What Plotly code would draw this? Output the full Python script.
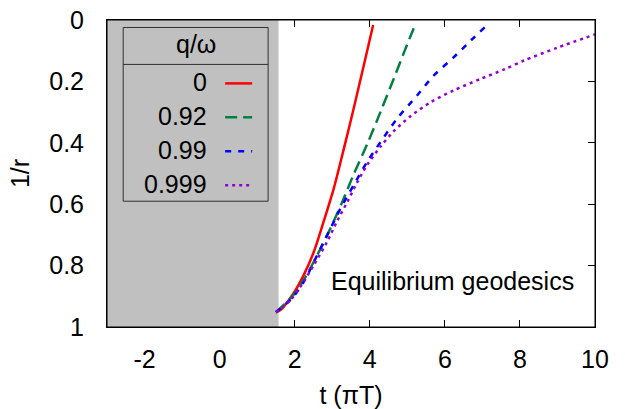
import math
import plotly.graph_objects as go

# ---- data ----
t_q0 = [1.50, 1.62, 1.97, 2.24, 2.51, 2.77, 3.04, 3.31, 3.57, 3.84, 4.09]
r_q0 = [0.952, 0.945, 0.890, 0.831, 0.755, 0.657, 0.549, 0.419, 0.289, 0.148, 0.016]

t_q092 = [1.50, 1.93, 2.24, 2.60, 2.95, 3.26, 3.57, 3.93, 4.29, 4.64, 4.95, 5.22]
r_q092 = [0.952, 0.901, 0.847, 0.766, 0.679, 0.595, 0.503, 0.405, 0.298, 0.191, 0.094, 0.012]

t_q099 = [1.50, 1.93, 2.24, 2.60, 2.91, 3.22, 3.57, 3.93, 4.29, 4.73, 5.26, 5.71, 6.24, 6.69, 7.13]
r_q099 = [0.952, 0.906, 0.853, 0.766, 0.690, 0.614, 0.538, 0.462, 0.397, 0.321, 0.246, 0.180, 0.121, 0.067, 0.016]

t_q0999 = [1.50, 1.89, 2.15, 2.51, 2.86, 3.13, 3.40, 3.66, 3.93, 4.29, 4.64, 5.09, 5.62,
           6.24, 6.95, 7.60, 8.11, 9.00, 10.0]
r_q0999 = [0.952, 0.912, 0.869, 0.798, 0.723, 0.655, 0.593, 0.530, 0.472, 0.412, 0.362, 0.313, 0.268,
           0.229, 0.192, 0.160, 0.132, 0.090, 0.047]

series_labels = ["0", "0.92", "0.99", "0.999"]
legend_title = "q/ω"

x_ticks = [-2, 0, 2, 4, 6, 8, 10]
x_tick_text = ["-2", "0", "2", "4", "6", "8", "10"]
y_ticks = [0, 0.2, 0.4, 0.6, 0.8, 1]
y_tick_text = ["0", "0.2", "0.4", "0.6", "0.8", "1"]

shade_start = -3
shade_end = math.pi / 2

# ---- styling ----
FONT = "Liberation Sans, Arial, Helvetica, sans-serif"
FS = 25
colors = ["#ff0000", "#008040", "#0000ff", "#9400d3"]
dashes = ["solid", "12px,6px", "6px,7px", "3px,4px"]
LW = 2.5

fig = go.Figure()

# shaded region
fig.add_trace(go.Scatter(
    x=[shade_start, shade_end, shade_end, shade_start, shade_start],
    y=[0, 0, 1, 1, 0],
    fill="toself", fillcolor="#c0c0c0", mode="lines",
    line=dict(width=0, color="#c0c0c0"), hoverinfo="skip", showlegend=False))

for tx, ry, c, d, name in zip([t_q0, t_q092, t_q099, t_q0999],
                              [r_q0, r_q092, r_q099, r_q0999],
                              colors, dashes, series_labels):
    fig.add_trace(go.Scatter(x=tx, y=ry, mode="lines", name=name,
                             line=dict(color=c, width=LW, dash=d, shape="spline", smoothing=0.8),
                             showlegend=False))

axis_common = dict(
    showgrid=False, zeroline=False, showline=True, linecolor="black", linewidth=1,
    mirror="ticks", ticks="inside", ticklen=7, tickcolor="black", tickwidth=1,
    layer="below traces", automargin=False,
    tickfont=dict(family=FONT, size=FS, color="black"),
    title_font=dict(family=FONT, size=FS, color="black"),
)

fig.update_xaxes(range=[-3, 10], tickvals=x_ticks, ticktext=x_tick_text, title_text="t (πT)",
                 ticklabelstandoff=10, title_standoff=20, **axis_common)
fig.update_yaxes(range=[1, 0], tickvals=y_ticks, ticktext=y_tick_text, title_text="1/r",
                 ticklabelstandoff=17, title_standoff=12, **axis_common)

# frame on top of shaded region
fig.add_shape(type="rect", xref="paper", yref="paper", x0=0, x1=1, y0=0, y1=1,
              line=dict(color="black", width=1), layer="above")

# custom key box
def px2x(px):
    return (px - 106.8) / 488.2

def py2y(py):
    return 1 - (py - 19.5) / 307.5

fig.add_shape(type="rect", xref="paper", yref="paper",
              x0=px2x(123), x1=px2x(268), y0=py2y(201), y1=py2y(27),
              line=dict(color="#303030", width=1), layer="above")
fig.add_shape(type="line", xref="paper", yref="paper",
              x0=px2x(123), x1=px2x(268), y0=py2y(64), y1=py2y(64),
              line=dict(color="#303030", width=1), layer="above")
fig.add_annotation(xref="paper", yref="paper", x=px2x(195.5), y=py2y(44),
                   text=legend_title, showarrow=False, xanchor="center", yanchor="middle",
                   font=dict(family=FONT, size=FS, color="black"))

row_py = [82, 116, 150, 184]
for lab, c, d, py in zip(series_labels, colors, dashes, row_py):
    fig.add_annotation(xref="paper", yref="paper", x=px2x(209), y=py2y(py),
                       text=lab, showarrow=False, xanchor="right", yanchor="middle",
                       font=dict(family=FONT, size=FS, color="black"))
    fig.add_shape(type="line", xref="paper", yref="paper",
                  x0=px2x(225), x1=px2x(252), y0=py2y(py + 1), y1=py2y(py + 1),
                  line=dict(color=c, width=LW, dash=d), layer="above")

fig.add_annotation(x=9.5, y=0.85, xref="x", yref="y", text="Equilibrium geodesics",
                   showarrow=False, xanchor="right", yanchor="middle",
                   font=dict(family=FONT, size=FS, color="black"))

fig.update_layout(
    width=625, height=409,
    margin=dict(l=107, r=30, t=20, b=82),
    paper_bgcolor="white", plot_bgcolor="white",
    showlegend=False,
)

fig.write_html("out.html", config={"displayModeBar": False},
               post_script="document.body.style.margin='0';")
